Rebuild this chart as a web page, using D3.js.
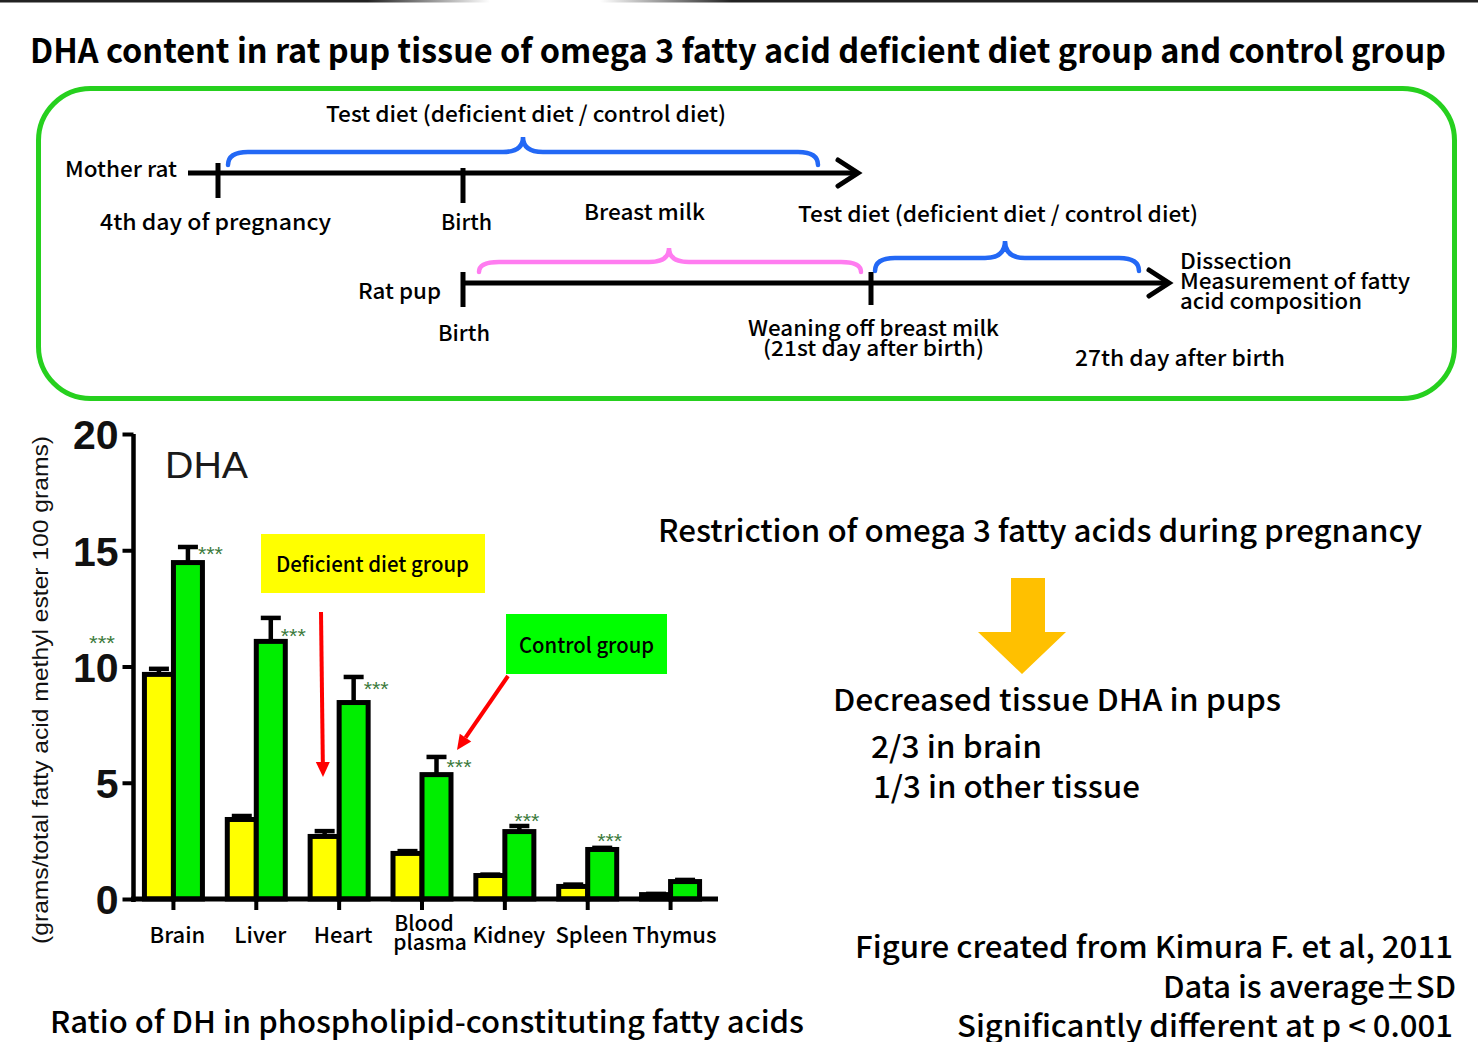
<!DOCTYPE html>
<html>
<head>
<meta charset="utf-8">
<script src="https://cdn.jsdelivr.net/npm/d3@7"></script>
<style>
  body { margin: 0; background: #fff; }
  svg { display: block; }
  text { font-family: "Noto Sans CJK JP", "Liberation Sans", sans-serif; }
</style>
</head>
<body>
<div id="plot"></div>
<script>
// data (Kimura F. et al, 2011)
const categories = ["Brain", "Liver", "Heart", "Blood plasma", "Kidney", "Spleen", "Thymus"];
const deficient    = [9.66, 3.42, 2.69, 1.96, 1.01, 0.54, 0.19];
const deficientSD  = [0.24, 0.15, 0.23, 0.10, 0.04, 0.08, 0.03];
const control      = [14.47, 11.08, 8.45, 5.35, 2.90, 2.13, 0.75];
const controlSD    = [0.67, 1.01, 1.10, 0.76, 0.24, 0.07, 0.07];
// level (in y units) where the "***" marks sit, null = none
const starLevel    = [15.0, 11.5, 9.2, 5.85, 3.53, 2.67, null];
const yTicks = [0, 5, 10, 15, 20];

const W = 1478, H = 1042;
const svg = d3.select("#plot").append("svg")
  .attr("width", W).attr("height", H);

// small helper for fitted text
function label(g, str, x, y, size, w, opts) {
  opts = opts || {};
  const t = g.append("text")
    .attr("x", x).attr("y", y)
    .attr("font-size", size)
    .attr("font-weight", opts.weight || 500)
    .attr("fill", opts.fill || "#000")
    .text(str);
  if (w) t.attr("textLength", w).attr("lengthAdjust", "spacingAndGlyphs");
  if (opts.anchor) t.attr("text-anchor", opts.anchor);
  if (opts.family) t.style("font-family", opts.family);
  return t;
}

// dark strip at the very top
const defs = svg.append("defs");
const gl = defs.append("linearGradient").attr("id", "fadeR");
gl.append("stop").attr("offset", "0.75").attr("stop-color", "#222");
gl.append("stop").attr("offset", "1").attr("stop-color", "#222").attr("stop-opacity", 0);
const gr = defs.append("linearGradient").attr("id", "fadeL");
gr.append("stop").attr("offset", "0").attr("stop-color", "#222").attr("stop-opacity", 0);
gr.append("stop").attr("offset", "0.15").attr("stop-color", "#222");
svg.append("rect").attr("x", 0).attr("y", 0).attr("width", 490).attr("height", 2.5).attr("fill", "url(#fadeR)");
svg.append("rect").attr("x", 600).attr("y", 0).attr("width", 878).attr("height", 2.5).attr("fill", "url(#fadeL)");

// title
label(svg, "DHA content in rat pup tissue of omega 3 fatty acid deficient diet group and control group",
  30, 63, 33, 1416, {weight: 700});

// ---------- timeline panel ----------
const tl = svg.append("g");
tl.append("rect")
  .attr("x", 38.5).attr("y", 88.5).attr("width", 1416).attr("height", 310)
  .attr("rx", 52).attr("ry", 52)
  .attr("fill", "none").attr("stroke", "#26d01e").attr("stroke-width", 5);

function brace(xl, xr, xc, yEnd, yLevel, yCusp, color) {
  const r = 20;
  const p = d3.path();
  p.moveTo(xl, yEnd);
  p.quadraticCurveTo(xl, yLevel, xl + r, yLevel);
  p.lineTo(xc - r, yLevel);
  p.quadraticCurveTo(xc, yLevel, xc, yCusp);
  p.quadraticCurveTo(xc, yLevel, xc + r, yLevel);
  p.lineTo(xr - r, yLevel);
  p.quadraticCurveTo(xr, yLevel, xr, yEnd);
  tl.append("path").attr("d", p.toString())
    .attr("fill", "none").attr("stroke", color).attr("stroke-width", 4.5)
    .attr("stroke-linecap", "round");
}
function timeArrow(x1, x2, yy) {
  tl.append("line").attr("x1", x1).attr("x2", x2 - 3).attr("y1", yy).attr("y2", yy)
    .attr("stroke", "#000").attr("stroke-width", 5);
  tl.append("path")
    .attr("d", `M${x2 - 20},${yy - 13} L${x2},${yy} L${x2 - 20},${yy + 13}`)
    .attr("fill", "none").attr("stroke", "#000").attr("stroke-width", 5)
    .attr("stroke-linejoin", "miter").attr("stroke-linecap", "round");
}
function tick(xx, y1, y2) {
  tl.append("line").attr("x1", xx).attr("x2", xx).attr("y1", y1).attr("y2", y2)
    .attr("stroke", "#000").attr("stroke-width", 5);
}

brace(228, 818, 523, 165, 152, 137, "#2368f5");
timeArrow(188, 858, 173);
tick(218, 163, 198);
tick(463, 168, 203);

brace(479, 861, 669, 272, 262, 248, "#ff7cf0");
brace(875, 1139, 1005, 271, 258, 241, "#2368f5");
timeArrow(463, 1169, 283);
tick(463, 272, 307);
tick(871, 272, 305);

label(tl, "Test diet (deficient diet / control diet)", 326, 122, 22, 400);
label(tl, "Mother rat", 65, 177, 22, 112);
label(tl, "4th day of pregnancy", 100, 230, 22, 231);
label(tl, "Birth", 441, 230, 22, 51);
label(tl, "Breast milk", 584, 220, 22, 121);
label(tl, "Test diet (deficient diet / control diet)", 798, 222, 22, 400);
label(tl, "Rat pup", 358, 299, 22, 83);
label(tl, "Birth", 438, 341, 22, 52);
label(tl, "Weaning off breast milk", 748, 336, 21, 251);
label(tl, "(21st day after birth)", 763, 356, 21, 221);
label(tl, "Dissection", 1180, 269, 21, 112);
label(tl, "Measurement of fatty", 1180, 289, 21, 230);
label(tl, "acid composition", 1180, 309, 21, 182);
label(tl, "27th day after birth", 1075, 366, 22, 210);

// ---------- bar chart ----------
const x0 = d3.scaleBand().domain(categories).range([132, 712])
  .paddingInner(0.3).paddingOuter(0.15);
const x1 = d3.scaleBand().domain(["deficient", "control"]).range([0, x0.bandwidth()]);
const y = d3.scaleLinear().domain([0, 20]).range([899, 434]);
const colors = {deficient: "#ffff00", control: "#00ee00"};

const rows = categories.map((c, i) => ({
  cat: c,
  vals: [
    {key: "deficient", v: deficient[i], sd: deficientSD[i]},
    {key: "control", v: control[i], sd: controlSD[i]}
  ],
  star: starLevel[i]
}));

const chart = svg.append("g");

const groups = chart.selectAll(".grp").data(rows).enter().append("g")
  .attr("class", "grp")
  .attr("transform", d => `translate(${x0(d.cat)},0)`);

// error bars (upper half only shows above the bars)
groups.selectAll(".err").data(d => d.vals).enter().append("g").attr("class", "err")
  .each(function(d) {
    const cx = x1(d.key) + x1.bandwidth() / 2;
    const g = d3.select(this);
    g.append("line").attr("x1", cx).attr("x2", cx)
      .attr("y1", y(d.v)).attr("y2", y(d.v + d.sd))
      .attr("stroke", "#000").attr("stroke-width", 4.5);
    g.append("line").attr("x1", cx - 10).attr("x2", cx + 10)
      .attr("y1", y(d.v + d.sd)).attr("y2", y(d.v + d.sd))
      .attr("stroke", "#000").attr("stroke-width", 4.5);
  });

groups.selectAll("rect").data(d => d.vals).enter().append("rect")
  .attr("x", d => x1(d.key))
  .attr("y", d => y(d.v))
  .attr("width", x1.bandwidth())
  .attr("height", d => y(0) - y(d.v))
  .attr("fill", d => colors[d.key])
  .attr("stroke", "#000").attr("stroke-width", 5);

// significance marks
const starColor = "#3b7a3b";
groups.filter(d => d.star != null).append("text")
  .attr("x", (d, i) => {
    const cx = x1("control") + x1.bandwidth() / 2;
    return i < 4 ? cx + 10 : cx - 5;
  })
  .attr("y", d => y(d.star) + 11)
  .attr("font-size", 21)
  .attr("fill", starColor)
  .attr("textLength", 25).attr("lengthAdjust", "spacingAndGlyphs")
  .style("font-family", "'Liberation Sans', Arial, sans-serif")
  .text("***");
// stray "***" left of the axis beside the brain deficient value
chart.append("text")
  .attr("x", 89).attr("y", y(11.2) + 11)
  .attr("font-size", 21).attr("fill", starColor)
  .attr("textLength", 26).attr("lengthAdjust", "spacingAndGlyphs")
  .style("font-family", "'Liberation Sans', Arial, sans-serif")
  .text("***");

// x axis
const xAxis = chart.append("g")
  .attr("transform", `translate(0,${y(0)})`)
  .call(d3.axisBottom(x0).tickSize(11).tickSizeOuter(0));
xAxis.select(".domain").remove();
xAxis.selectAll(".tick line").attr("stroke", "#000").attr("stroke-width", 4);
xAxis.selectAll(".tick text").each(function(d) {
  const t = d3.select(this).text(null)
    .attr("x", 4).attr("dy", null)
    .attr("font-size", 22).attr("font-weight", 500).attr("fill", "#000")
    .style("font-family", "'Noto Sans CJK JP', 'Liberation Sans', sans-serif");
  const parts = d.split(" ");
  if (parts.length > 1) {
    t.attr("y", 32).attr("font-size", 21);
    t.append("tspan").attr("x", 2).text(parts[0]);
    t.append("tspan").attr("x", 8).attr("dy", 19).text(parts[1]);
  } else {
    t.attr("y", 44).text(d);
  }
});
chart.append("line")
  .attr("x1", 131).attr("x2", 718).attr("y1", y(0)).attr("y2", y(0))
  .attr("stroke", "#000").attr("stroke-width", 5);

// y axis
const yAxis = chart.append("g")
  .attr("transform", "translate(133.5,0)")
  .call(d3.axisLeft(y).tickValues(yTicks).tickSize(11).tickSizeOuter(0).tickPadding(4));
yAxis.select(".domain").attr("stroke", "#000").attr("stroke-width", 4.5)
  .attr("d", `M0,${y(20)}V${y(0) + 3}`);
yAxis.selectAll(".tick line").attr("stroke", "#000").attr("stroke-width", 4);
yAxis.selectAll(".tick text")
  .attr("font-size", 41).attr("font-weight", 700).attr("fill", "#111")
  .attr("dy", "0.36em")
  .style("font-family", "'Liberation Sans', Arial, sans-serif");

// y axis title
chart.append("text")
  .attr("transform", "translate(48,690) rotate(-90)")
  .attr("text-anchor", "middle")
  .attr("font-size", 22).attr("fill", "#111")
  .attr("textLength", 508).attr("lengthAdjust", "spacingAndGlyphs")
  .style("font-family", "'Liberation Sans', Arial, sans-serif")
  .text("(grams/total fatty acid methyl ester 100 grams)");

// DHA label
label(chart, "DHA", 165, 478, 37, 83, {weight: 400, fill: "#1a1a1a", family: "'Liberation Sans', Arial, sans-serif"});

// legend callouts
chart.append("rect").attr("x", 261).attr("y", 534).attr("width", 224).attr("height", 59).attr("fill", "#ffff00");
label(chart, "Deficient diet group", 276, 572, 21, 193);
chart.append("rect").attr("x", 506).attr("y", 614).attr("width", 161).attr("height", 60).attr("fill", "#00ff00");
label(chart, "Control group", 519, 653, 21, 135);

function redArrow(ax, ay, bx, by) {
  const ang = Math.atan2(by - ay, bx - ax);
  const hl = 15, hw = 7;
  const bxs = bx - hl * Math.cos(ang), bys = by - hl * Math.sin(ang);
  chart.append("line").attr("x1", ax).attr("y1", ay).attr("x2", bxs).attr("y2", bys)
    .attr("stroke", "#ff0000").attr("stroke-width", 4);
  const px = -Math.sin(ang) * hw, py = Math.cos(ang) * hw;
  chart.append("polygon")
    .attr("points", `${bx},${by} ${bxs + px},${bys + py} ${bxs - px},${bys - py}`)
    .attr("fill", "#ff0000");
}
redArrow(321, 612, 323, 777);
redArrow(508, 676, 457, 750);

// ---------- right-hand notes ----------
const notes = svg.append("g");
label(notes, "Restriction of omega 3 fatty acids during pregnancy", 658, 542, 31, 764);
notes.append("polygon")
  .attr("points", "1011,578 1045,578 1045,632 1066,632 1022,674 978,632 1011,632")
  .attr("fill", "#ffc000");
label(notes, "Decreased tissue DHA in pups", 833, 711, 30, 448);
label(notes, "2/3 in brain", 871, 758, 30, 171);
label(notes, "1/3 in other tissue", 873, 798, 30, 267);
label(notes, "Figure created from Kimura F. et al, 2011", 855, 958, 30, 598);
label(notes, "Data is average\u00b1SD", 1163, 998, 30, 293);
label(notes, "Significantly different at p < 0.001", 957, 1037, 30, 496);
label(notes, "Ratio of DH in phospholipid-constituting fatty acids", 50, 1033, 30, 754);
</script>
</body>
</html>
